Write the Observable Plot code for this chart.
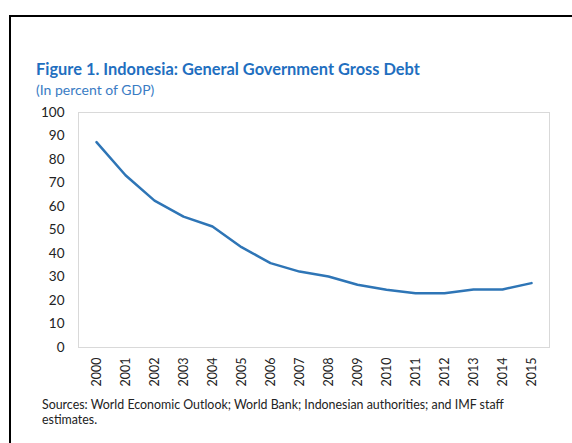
<!DOCTYPE html>
<html>
<head>
<meta charset="utf-8">
<script src="https://cdn.jsdelivr.net/npm/d3@7"></script>
<script src="https://cdn.jsdelivr.net/npm/@observablehq/plot@0.6"></script>
<style>
  html, body { margin: 0; padding: 0; background: #fff; width: 572px; height: 443px; overflow: hidden; }
  #frame { position: absolute; left: 9px; top: 15px; width: 600px; height: 500px; border-left: 2px solid #000; border-top: 2px solid #000; }
  #title { position: absolute; left: 36px; top: 59px; font-family: Lato, "Open Sans", sans-serif; font-weight: bold; font-size: 16.4px; color: #1f6fc0; white-space: nowrap; }
  #subtitle { position: absolute; left: 36px; top: 81px; font-family: Lato, "Open Sans", sans-serif; font-size: 14px; color: #3a7cc4; white-space: nowrap; }
  #chart { position: absolute; left: 0; top: 100px; }
  #caption { position: absolute; left: 42px; top: 397px; width: 490px; font-family: Lato, "Open Sans", sans-serif; font-size: 12.4px; line-height: 15px; color: #222; }
</style>
</head>
<body>
<div id="frame"></div>
<div id="title">Figure 1. Indonesia: General Government Gross Debt</div>
<div id="subtitle">(In percent of GDP)</div>
<div id="chart"></div>
<div id="caption">Sources: World Economic Outlook; World Bank; Indonesian authorities; and IMF staff estimates.</div>
<script>
const years = ["2000","2001","2002","2003","2004","2005","2006","2007","2008","2009","2010","2011","2012","2013","2014","2015"];
const debt = [87.4, 73.3, 62.5, 55.7, 51.5, 42.7, 35.9, 32.3, 30.2, 26.7, 24.6, 23.1, 23.1, 24.7, 24.7, 27.4];
const yTicks = [0, 10, 20, 30, 40, 50, 60, 70, 80, 90, 100];

const data = years.map((y, i) => ({year: y, value: debt[i]}));

const chart = Plot.plot({
  width: 572,
  height: 300,
  marginTop: 12,
  marginBottom: 53,
  marginLeft: 78,
  marginRight: 23,
  style: {fontFamily: "Lato, 'Open Sans', sans-serif", fontSize: "13px", color: "#222", background: "transparent"},
  x: {type: "point", domain: years, padding: 0.5, label: null},
  y: {domain: [0, 100], label: null},
  marks: [
    Plot.frame({stroke: "#d9d9d9"}),
    Plot.axisY({ticks: yTicks, tickSize: 0, tickPadding: 14, label: null, fontSize: 13.5}),
    Plot.axisX({tickSize: 0, tickPadding: 10, tickRotate: -90, label: null, fontSize: 12.5}),
    Plot.line(data, {x: "year", y: "value", stroke: "#2e75b6", strokeWidth: 2.5})
  ]
});
document.getElementById("chart").appendChild(chart);
</script>
</body>
</html>
